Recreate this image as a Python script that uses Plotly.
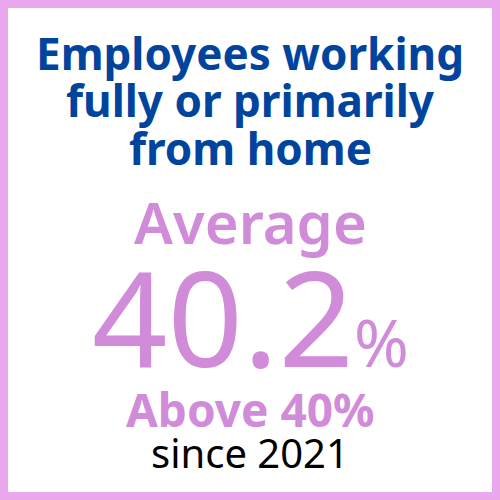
import plotly.graph_objects as go

# KPI values
title_lines = ["Employees working", "fully or primarily", "from home"]
average_value = 40.2
threshold = 40
since_year = 2021

BLUE = "#00449E"
PINK = "#D08CD8"
BORDER = "#EBA8EE"
FONT = "Noto Sans"

fig = go.Figure()

# pink frame round the card
fig.add_shape(type="rect", xref="paper", yref="paper",
              x0=0, x1=1, y0=0, y1=1,
              line=dict(color=BORDER, width=16), layer="above")


def add_text(text, y, size, color, weight="normal"):
    fig.add_annotation(text=text, x=0.5, y=y, xref="paper", yref="paper",
                       xanchor="center", yanchor="middle", showarrow=False,
                       font=dict(family=FONT, size=size, color=color,
                                 weight=weight))


title_y = [0.893, 0.799, 0.705]
for line, y in zip(title_lines, title_y):
    add_text(line, y, 44, BLUE, "bold")

add_text("Average", 0.556, 58, PINK, 600)
add_text("%.1f<span style='font-size:66px'>%%</span>" % average_value,
         0.368, 132, PINK)
add_text("Above %d%%" % threshold, 0.182, 46, PINK, "bold")
add_text("since %d" % since_year, 0.096, 40, "black")

fig.update_layout(
    width=500, height=500,
    margin=dict(l=0, r=0, t=0, b=0),
    paper_bgcolor="white", plot_bgcolor="white",
    xaxis=dict(visible=False), yaxis=dict(visible=False),
    showlegend=False,
)

# drop the page's default body margin so the card fills the window
fig.write_html("out.html", config={"displayModeBar": False},
               post_script="document.body.style.margin='0';")
